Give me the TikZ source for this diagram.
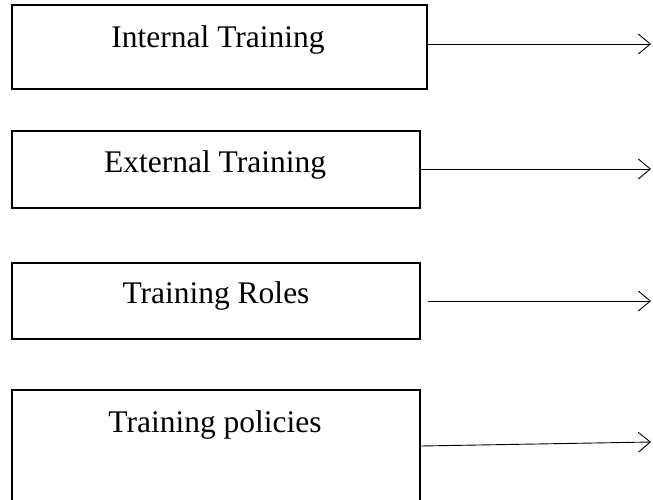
\documentclass[tikz,border=0pt]{standalone}
\usepackage{fontspec}
\setmainfont{Liberation Serif}
\usetikzlibrary{arrows.meta}

\tikzset{
  box/.style={draw, line width=1.6pt, minimum width=408pt, inner sep=0pt},
  lbl/.style={anchor=base, inner sep=0pt, font=\fontsize{31.5}{38}\selectfont},
  conn/.style={line width=0.9pt, -{Straight Barb[length=12pt,width=20pt,line width=0.9pt]}}
}

\begin{document}
\begin{tikzpicture}[x=1pt,y=-1pt]
  \useasboundingbox (0,0) rectangle (653,499);
  \clip (0,0) rectangle (653,499);
  \node[box, minimum width=415pt, minimum height=84pt] (intbox) at (219.5,47) {};
  \node[lbl] (inttxt) at (218,47) {Internal Training};
  \node[box, minimum height=77pt] (extbox) at (216,169.5) {};
  \node[lbl] (exttxt) at (215,172) {External Training};
  \node[box, minimum height=76pt] (rolbox) at (216,301) {};
  \node[lbl] (roltxt) at (216,303) {Training Roles};
  \node[box, minimum height=112pt] (polbox) at (216,446) {};
  \node[lbl] (poltxt) at (215,432) {Training policies};
  \coordinate (intend) at (651,44);
  \coordinate (extend) at (651,169);
  \coordinate (rolend) at (651,301);
  \coordinate (polend) at (651,442);
  \draw[conn] (intbox.east |- intend) -- (intend);
  \draw[conn] (extbox.east |- extend) -- (extend);
  \draw[conn, shorten <=7pt] (rolbox.east |- rolend) -- (rolend);
  \draw[conn] (polbox.east) -- (polend);
\end{tikzpicture}
\end{document}
